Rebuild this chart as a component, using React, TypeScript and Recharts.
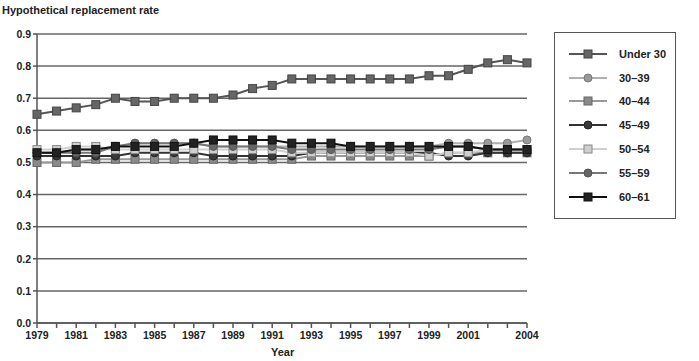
import React from 'react'
import { LineChart, Line, XAxis, YAxis, CartesianGrid } from 'recharts'

const years = [
  1979, 1980, 1981, 1982, 1983, 1984, 1985, 1986, 1987, 1988, 1989, 1990, 1991,
  1992, 1993, 1994, 1995, 1996, 1997, 1998, 1999, 2000, 2001, 2002, 2003, 2004,
]
const labeledYears = [1979, 1981, 1983, 1985, 1987, 1989, 1991, 1993, 1995, 1997, 1999, 2001, 2004]
const yTicks = [0, 0.1, 0.2, 0.3, 0.4, 0.5, 0.6, 0.7, 0.8, 0.9]

const under30 = [0.65, 0.66, 0.67, 0.68, 0.7, 0.69, 0.69, 0.7, 0.7, 0.7, 0.71, 0.73, 0.74, 0.76, 0.76, 0.76, 0.76, 0.76, 0.76, 0.76, 0.77, 0.77, 0.79, 0.81, 0.82, 0.81]
const age30to39 = [0.53, 0.53, 0.54, 0.54, 0.55, 0.56, 0.56, 0.56, 0.56, 0.55, 0.55, 0.55, 0.55, 0.55, 0.55, 0.55, 0.55, 0.55, 0.55, 0.55, 0.55, 0.56, 0.56, 0.56, 0.56, 0.57]
const age40to44 = [0.5, 0.5, 0.5, 0.51, 0.51, 0.51, 0.51, 0.51, 0.51, 0.51, 0.51, 0.51, 0.51, 0.51, 0.52, 0.52, 0.52, 0.52, 0.52, 0.52, 0.52, 0.53, 0.53, 0.53, 0.53, 0.53]
const age45to49 = [0.52, 0.52, 0.52, 0.52, 0.52, 0.53, 0.53, 0.53, 0.53, 0.52, 0.52, 0.52, 0.52, 0.52, 0.53, 0.53, 0.53, 0.53, 0.53, 0.53, 0.53, 0.52, 0.52, 0.53, 0.53, 0.53]
const age50to54 = [0.54, 0.54, 0.55, 0.55, 0.54, 0.54, 0.54, 0.54, 0.54, 0.54, 0.54, 0.54, 0.54, 0.53, 0.53, 0.53, 0.53, 0.53, 0.53, 0.53, 0.52, 0.53, 0.53, 0.54, 0.54, 0.54]
const age55to59 = [0.53, 0.53, 0.53, 0.53, 0.55, 0.56, 0.56, 0.56, 0.56, 0.55, 0.55, 0.55, 0.55, 0.54, 0.54, 0.54, 0.54, 0.54, 0.54, 0.54, 0.54, 0.55, 0.55, 0.54, 0.54, 0.54]
const age60to61 = [0.53, 0.53, 0.54, 0.54, 0.55, 0.55, 0.55, 0.55, 0.56, 0.57, 0.57, 0.57, 0.57, 0.56, 0.56, 0.56, 0.55, 0.55, 0.55, 0.55, 0.55, 0.55, 0.55, 0.54, 0.54, 0.54]

const series = [
  { key: 'under30', name: 'Under 30', values: under30, line: '#555', fill: '#666', edge: '#444', shape: 'square' },
  { key: 'a3039', name: '30\u201339', values: age30to39, line: '#b0b0b0', fill: '#9a9a9a', edge: '#777', shape: 'circle' },
  { key: 'a4044', name: '40\u201344', values: age40to44, line: '#999', fill: '#8a8a8a', edge: '#666', shape: 'square' },
  { key: 'a4549', name: '45\u201349', values: age45to49, line: '#333', fill: '#3a3a3a', edge: '#222', shape: 'circle' },
  { key: 'a5054', name: '50\u201354', values: age50to54, line: '#d0d0d0', fill: '#cfcfcf', edge: '#888', shape: 'square' },
  { key: 'a5559', name: '55\u201359', values: age55to59, line: '#777', fill: '#666', edge: '#555', shape: 'circle' },
  { key: 'a6061', name: '60\u201361', values: age60to61, line: '#111', fill: '#222', edge: '#111', shape: 'square' },
]

const data = years.map((year, i) => {
  const row: any = { year }
  series.forEach((s) => {
    row[s.key] = s.values[i]
  })
  return row
})

const font = 'Arial, "Liberation Sans", sans-serif'

const marker = (s: any) => (props: any) => {
  const { cx, cy, index } = props
  if (cx == null || cy == null) return <g key={index} />
  if (s.shape === 'circle') {
    return <circle key={index} cx={cx} cy={cy} r={4} fill={s.fill} stroke={s.edge} strokeWidth={1} />
  }
  return <rect key={index} x={cx - 4} y={cy - 4} width={8} height={8} fill={s.fill} stroke={s.edge} strokeWidth={1} />
}

const YearTick = ({ x, y, payload }: any) => {
  if (!labeledYears.includes(payload.value)) return null
  return (
    <text x={x} y={y + 9} textAnchor="middle" fontFamily={font} fontWeight="bold" fontSize={10.5} fill="#222">
      {payload.value}
    </text>
  )
}

const LegendBox = () => (
  <div
    style={{
      position: 'absolute',
      left: 554,
      top: 32,
      width: 122,
      height: 187,
      border: '1px solid #555',
      background: '#fff',
      boxSizing: 'border-box',
      paddingTop: 9,
    }}
  >
    {series.map((s) => (
      <div key={s.key} style={{ display: 'flex', alignItems: 'center', height: 23.8, whiteSpace: 'nowrap' }}>
        <svg width={50} height={12} style={{ marginLeft: 14, flex: 'none' }}>
          <line x1={0} y1={6} x2={38} y2={6} stroke={s.line} strokeWidth={2} />
          {s.shape === 'circle' ? (
            <circle cx={19} cy={6} r={4} fill={s.fill} stroke={s.edge} />
          ) : (
            <rect x={15} y={2} width={8} height={8} fill={s.fill} stroke={s.edge} />
          )}
        </svg>
        <span style={{ fontFamily: font, fontWeight: 'bold', fontSize: 11, color: '#222' }}>{s.name}</span>
      </div>
    ))}
  </div>
)

export default function App() {
  return (
    <div style={{ position: 'absolute', left: 0, top: 0, width: 699, height: 361, background: '#fff' }}>
      <div
        style={{
          position: 'absolute',
          left: 2,
          top: 4,
          fontFamily: font,
          fontWeight: 'bold',
          fontSize: 11,
          color: '#222',
        }}
      >
        Hypothetical replacement rate
      </div>
      <div
        style={{
          position: 'absolute',
          left: 271,
          top: 346,
          fontFamily: font,
          fontWeight: 'bold',
          fontSize: 11,
          color: '#222',
        }}
      >
        Year
      </div>
      <LineChart width={699} height={361} data={data} margin={{ top: 34, right: 172, left: 0, bottom: 0 }}>
        <CartesianGrid vertical={false} stroke="#666" strokeWidth={1.5} />
        <XAxis
          dataKey="year"
          type="number"
          domain={[1979, 2004]}
          ticks={years}
          interval={0}
          height={38}
          tick={<YearTick />}
          tickSize={5}
          stroke="#555"
          strokeWidth={1.5}
        />
        <YAxis
          domain={[0, 0.9]}
          ticks={yTicks}
          interval={0}
          width={37}
          tickFormatter={(v: number) => v.toFixed(1)}
          tick={{ fontFamily: font, fontWeight: 'bold', fontSize: 10.5, fill: '#222' }}
          tickSize={4}
          stroke="#555"
          strokeWidth={1.5}
        />
        {series.map((s) => (
          <Line
            key={s.key}
            dataKey={s.key}
            name={s.name}
            stroke={s.line}
            strokeWidth={2}
            dot={marker(s)}
            activeDot={false}
            isAnimationActive={false}
          />
        ))}
      </LineChart>
      <LegendBox />
    </div>
  )
}
